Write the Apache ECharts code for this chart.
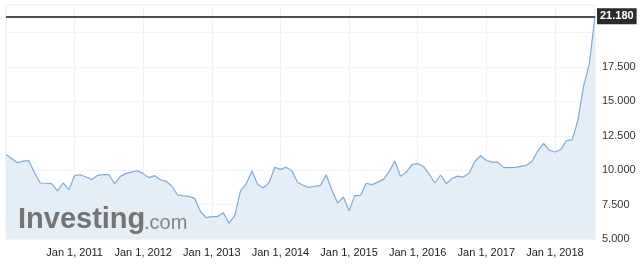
<!DOCTYPE html>
<html><head><meta charset="utf-8">
<script src="https://cdn.jsdelivr.net/npm/echarts@6/dist/echarts.min.js"></script>
<style>html,body{margin:0;padding:0;background:#fff}#c{width:640px;height:272px}</style>
</head><body><div id="c"></div>
<script>
const months = [
 '2010-01','2010-02','2010-03','2010-04','2010-05','2010-06','2010-07','2010-08','2010-09','2010-10','2010-11','2010-12',
 '2011-01','2011-02','2011-03','2011-04','2011-05','2011-06','2011-07','2011-08','2011-09','2011-10','2011-11','2011-12',
 '2012-01','2012-02','2012-03','2012-04','2012-05','2012-06','2012-07','2012-08','2012-09','2012-10','2012-11','2012-12',
 '2013-01','2013-02','2013-03','2013-04','2013-05','2013-06','2013-07','2013-08','2013-09','2013-10','2013-11','2013-12',
 '2014-01','2014-02','2014-03','2014-04','2014-05','2014-06','2014-07','2014-08','2014-09','2014-10','2014-11','2014-12',
 '2015-01','2015-02','2015-03','2015-04','2015-05','2015-06','2015-07','2015-08','2015-09','2015-10','2015-11','2015-12',
 '2016-01','2016-02','2016-03','2016-04','2016-05','2016-06','2016-07','2016-08','2016-09','2016-10','2016-11','2016-12',
 '2017-01','2017-02','2017-03','2017-04','2017-05','2017-06','2017-07','2017-08','2017-09','2017-10','2017-11','2017-12',
 '2018-01','2018-02','2018-03','2018-04','2018-05','2018-06','2018-07','2018-08'
];
const values = [
 11.14,10.85,10.54,10.66,10.69,9.80,9.07,9.05,9.02,8.49,9.07,8.59,
 9.60,9.67,9.50,9.33,9.62,9.67,9.67,9.02,9.55,9.75,9.88,9.96,
 9.75,9.46,9.60,9.30,9.20,8.85,8.20,8.13,8.10,7.95,7.00,6.55,
 6.62,6.63,6.90,6.15,6.70,8.50,9.00,9.94,8.97,8.71,9.10,10.20,
 10.06,10.22,9.95,9.10,8.90,8.75,8.83,8.90,9.67,8.54,7.62,8.05,
 7.05,8.15,8.17,9.05,8.95,9.13,9.33,9.90,10.66,9.55,9.86,10.40,
 10.47,10.27,9.72,9.07,9.65,9.02,9.40,9.57,9.50,9.80,10.65,11.05,
 10.70,10.60,10.57,10.20,10.18,10.20,10.28,10.35,10.65,11.40,11.95,11.45,
 11.32,11.50,12.15,12.20,13.60,16.10,17.70,21.18
];
const lastValue = 21.18;
const yMin = 5, yMax = 22, yStep = 2.5, yLabelMax = 17.5;
const monthNames = ['Jan','Feb','Mar','Apr','May','Jun','Jul','Aug','Sep','Oct','Nov','Dec'];

const isYearStart = (i) => i > 0 && months[i].slice(5) === '01';
const chart = echarts.init(document.getElementById('c'), null, {renderer:'canvas'});
chart.setOption({
  animation:false,
  textStyle:{fontFamily:'Liberation Sans, Arial, sans-serif'},
  grid:{left:6,right:45,top:5,bottom:33,show:true,borderColor:'#ebebeb',borderWidth:1,backgroundColor:'transparent'},
  xAxis:{
    type:'category', data:months, boundaryGap:false,
    axisLine:{show:false}, axisTick:{show:false},
    axisLabel:{
      interval:(i)=>isYearStart(i), color:'#222', fontSize:11, margin:8,
      formatter:(v)=>{const p=v.split('-');return monthNames[+p[1]-1]+' 1, '+p[0];}
    },
    splitLine:{show:true, interval:(i)=>isYearStart(i), lineStyle:{color:'#f1f1f1',width:1}}
  },
  yAxis:{
    type:'value', position:'right', min:yMin, max:yMax, interval:yStep,
    axisLine:{show:false}, axisTick:{show:false},
    axisLabel:{color:'#333', fontSize:11, margin:7, showMaxLabel:false,
      formatter:(v)=> v<=yLabelMax ? v.toFixed(3) : ''},
    splitLine:{show:true, lineStyle:{color:'#f4f4f4',width:1}}
  },
  series:[{
    type:'line', data:values, symbol:'none', smooth:false,
    lineStyle:{color:'#82aad6',width:1.2},
    areaStyle:{color:'#e4eef6',opacity:1},
    markLine:{
      silent:true, symbol:'none',
      lineStyle:{color:'#4d4d4d',width:2,type:'solid'},
      label:{position:'end', distance:2, formatter:()=>lastValue.toFixed(3), color:'#fff',
        backgroundColor:'#2b2b2b', padding:[3,3,2,3], fontSize:11, fontWeight:'bold'},
      data:[{yAxis:lastValue}]
    }
  }],
  graphic:[
    {type:'text', left:18, top:205, silent:true, z:10,
     style:{text:'Investing', font:'bold 29px "Liberation Sans", Arial, sans-serif', fill:'#747474'}},
    {type:'text', left:144, top:213, silent:true, z:10,
     style:{text:'.com', font:'20px "Liberation Sans", Arial, sans-serif', fill:'#858585'}}
  ]
});
</script></body></html>
